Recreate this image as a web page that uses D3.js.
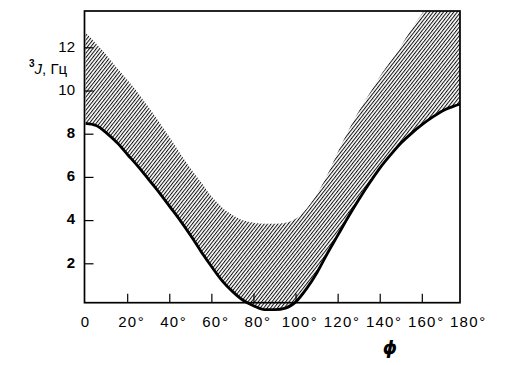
<!DOCTYPE html>
<html><head><meta charset="utf-8">
<script src="https://cdn.jsdelivr.net/npm/d3@7"></script>
<style>body{margin:0;background:#fff}svg{display:block}</style>
</head><body>
<script>
const angles = [0,5,10,15,20,25,30,35,40,45,50,55,60,65,70,75,80,85,90,95,100,105,110,115,120,125,130,135,140,145,150,155,160,165,170,175,180];
const lowerJ = [8.5,8.4,8.05,7.6,7.05,6.5,5.9,5.3,4.65,4.0,3.3,2.55,1.85,1.2,0.7,0.3,0.05,-0.12,-0.12,-0.05,0.25,0.85,1.6,2.5,3.35,4.2,5.0,5.75,6.45,7.05,7.6,8.05,8.45,8.8,9.1,9.3,9.45];
const upperJ = [12.7,12.2,11.65,11.05,10.5,9.9,9.25,8.55,7.85,7.1,6.4,5.75,5.1,4.6,4.25,4.0,3.9,3.85,3.85,3.9,4.1,4.55,5.25,6.15,7.2,8.2,9.1,9.9,10.7,11.4,12.1,12.9,13.6,14.3,15.0,15.6,16.1];
const xTicks = [0,20,40,60,80,100,120,140,160,180];
const xTickLabels = ["0","20","40","60","80","100","120","140","160","180"];
const yTicks = [2,4,6,8,10,12];
const yTickLabels = ["2","4","6","8","10","12"];

const W = 521, H = 365;
const svg = d3.select("body").append("svg").attr("width", W).attr("height", H);
const x = d3.scaleLinear().domain([0,180]).range([85.6,464.4]);
const y = d3.scaleLinear().domain([0,12]).range([307,307-12*21.6]);
const fL = 84.5, fR = 460, fT = 11, fB = 302.7;

const defs = svg.append("defs");
const pat = defs.append("pattern").attr("id","hatch").attr("patternUnits","userSpaceOnUse")
  .attr("width",2.7).attr("height",10).attr("patternTransform","rotate(38)");
pat.append("line").attr("x1",0.5).attr("x2",0.5).attr("y1",0).attr("y2",10)
  .attr("stroke","#111").attr("stroke-width",1.05);
defs.append("clipPath").attr("id","clip").append("rect")
  .attr("x",fL).attr("y",fT).attr("width",fR-fL).attr("height",320-fT);

const data = angles.map((a,i)=>({a, lo: lowerJ[i], hi: upperJ[i]}));
const g = svg.append("g").attr("clip-path","url(#clip)");
g.append("path").datum(data)
  .attr("d", d3.area().x(d=>x(d.a)).y0(d=>y(d.lo)).y1(d=>y(d.hi)).curve(d3.curveMonotoneX))
  .attr("fill","url(#hatch)");
g.append("path").datum(data)
  .attr("d", d3.line().x(d=>x(d.a)).y(d=>y(d.lo)).curve(d3.curveMonotoneX))
  .attr("fill","none").attr("stroke","#000").attr("stroke-width",2.8);

// frame
svg.append("rect").attr("x",fL).attr("y",fT).attr("width",fR-fL).attr("height",fB-fT)
  .attr("fill","none").attr("stroke","#000").attr("stroke-width",1.7);

// ticks
svg.selectAll(".xt").data(xTicks.filter(t=>t>0 && t<180)).enter().append("line")
  .attr("x1",d=>x(d)).attr("x2",d=>x(d)).attr("y1",fB).attr("y2",fB-9)
  .attr("stroke","#000").attr("stroke-width",1.2);
svg.selectAll(".yt").data(yTicks).enter().append("line")
  .attr("x1",fL).attr("x2",fL+9).attr("y1",d=>y(d)).attr("y2",d=>y(d))
  .attr("stroke","#000").attr("stroke-width",1.2);

const font = "'Liberation Sans', Arial, sans-serif";
xTicks.forEach((t,i)=>{
  const tx = svg.append("text").attr("x",x(t)).attr("y",327)
    .attr("text-anchor","middle").attr("font-family",font).attr("font-size",15)
    .attr("letter-spacing",1.2).text(xTickLabels[i]);
  if (t>0) {
    const bb = tx.node().getBBox();
    svg.append("text").attr("x",bb.x+bb.width+0.5).attr("y",327)
      .attr("font-family",font).attr("font-size",15).text("°");
  }
});
yTicks.forEach((t,i)=>{
  svg.append("text").attr("x",75).attr("y",y(t)-1.5).attr("dy","0.35em")
    .attr("text-anchor","end").attr("font-family",font).attr("font-size",15)
    .attr("font-weight", t<10 ? "bold":"normal")
    .text(yTickLabels[i]);
});

// y label
const yl = svg.append("text").attr("x",29).attr("y",74).attr("font-family",font).attr("font-size",15);
yl.append("tspan").attr("font-size",10).attr("dy",-7).attr("font-weight","bold").text("3");
yl.append("tspan").attr("dy",7).attr("font-style","italic").text("J");
yl.append("tspan").text(", Гц");

// x label
svg.append("text").attr("x",390).attr("y",354).attr("text-anchor","middle")
  .attr("font-family","'DejaVu Sans', sans-serif").attr("font-size",18)
  .attr("font-weight","bold").attr("font-style","italic").text("ϕ");
</script>
</body></html>
